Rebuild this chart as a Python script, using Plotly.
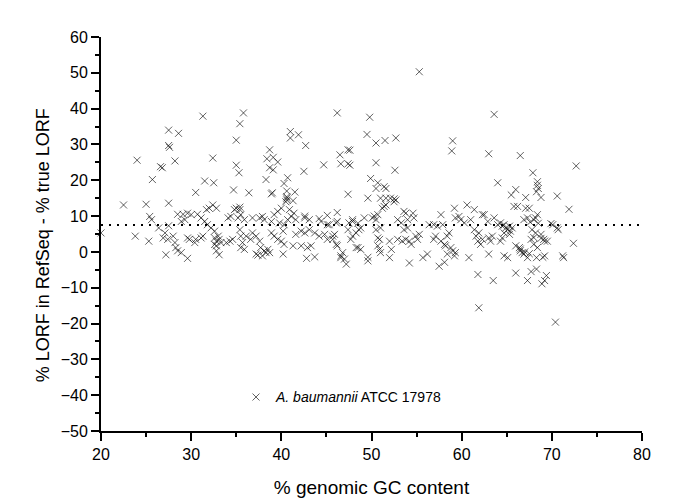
import plotly.graph_objects as go

# % genomic GC content (x) and % LORF in RefSeq - % true LORF (y)
gc_upper = [55.3, 31.3, 35.8, 35.4, 27.5, 28.6, 35.0, 27.5, 27.6, 41.0, 41.0, 41.9, 42.7, 46.2, 49.8, 49.5,
            50.5, 51.5, 52.7, 46.5, 46.6, 47.4, 47.6, 47.4, 47.6, 50.5, 49.9, 50.7, 50.5, 51.6, 52.6, 47.4,
            49.6, 51.0, 51.6, 52.1, 52.5, 52.7, 59.0, 58.9, 63.6, 63.0, 66.5, 72.7, 67.9, 64.0, 68.4, 68.4,
            68.5, 68.3, 68.8, 65.5, 66.0, 67.1, 70.6, 24.0, 26.8, 26.6, 28.2, 32.4, 25.7, 31.5, 32.5, 30.5,
            35.0, 35.3, 34.7, 36.4, 38.3, 38.4, 38.7, 39.1, 38.7, 39.1, 39.6, 40.7, 40.3, 40.6, 40.6, 40.5,
            41.5, 41.3, 42.5, 44.7, 22.5, 25.0, 27.5, 39.0, 38.9, 51.4, 52.5, 51.4, 60.6, 61.4, 59.2, 57.7,
            62.5, 63.6, 65.8, 66.2, 67.1, 67.5, 71.9, 35.4, 35.5, 51.2, 51.6]
lorf_upper = [50.3, 37.9, 38.8, 35.8, 34.0, 33.1, 31.2, 29.7, 29.2, 33.6, 31.8, 32.7, 29.7, 38.8, 37.6, 32.8,
              30.4, 31.1, 31.8, 27.1, 24.6, 28.5, 28.4, 24.6, 24.2, 24.9, 20.5, 19.3, 17.7, 17.7, 22.8, 16.1,
              15.0, 15.0, 15.0, 15.0, 14.8, 14.5, 31.0, 28.2, 38.4, 27.4, 26.9, 24.0, 22.1, 19.3, 19.6, 18.6,
              17.7, 16.8, 15.2, 15.9, 17.4, 15.2, 15.6, 25.6, 23.5, 23.8, 25.4, 26.2, 20.2, 19.8, 19.3, 16.6,
              24.2, 22.1, 17.3, 16.5, 20.2, 26.0, 28.5, 26.4, 23.5, 22.9, 25.1, 20.7, 19.1, 17.0, 15.0, 14.0,
              16.7, 14.3, 22.5, 24.3, 13.1, 13.3, 13.6, 16.5, 16.2, 18.2, 14.0, 12.7, 13.1, 11.8, 12.2, 10.4,
              10.4, 9.5, 12.7, 12.7, 12.2, 12.2, 11.9, 12.5, 10.4, 12.2, 13.1]

gc_band = [20.0, 23.8, 25.4, 25.6, 25.3, 26.4, 27.1, 27.5, 26.9, 27.4, 28.0, 28.2, 28.3, 28.5, 28.9, 29.6,
           27.2, 28.5, 29.1, 29.6, 30.0, 30.7, 28.9, 29.3, 29.6, 29.8, 30.4, 30.5, 31.1, 31.3, 31.1, 31.5,
           31.8, 32.2, 32.6, 31.7, 32.0, 32.4, 32.8, 32.6, 32.8, 33.0, 33.1, 33.3, 32.8, 32.6, 32.8, 33.1,
           34.1, 34.4, 34.8, 35.0, 35.4, 35.2, 33.9, 34.3, 34.6, 35.4, 35.5, 35.7, 35.5, 35.9, 36.1, 36.6,
           36.8, 37.2, 37.6, 37.7, 38.1, 38.3, 38.5, 38.7, 37.2, 37.4, 37.9, 37.6, 37.9, 38.1, 39.2, 39.6,
           40.0, 39.8, 40.3, 40.2, 40.7, 41.1, 40.9, 41.4, 41.6, 40.6, 40.6, 38.9, 39.2, 39.6, 40.0, 40.3,
           40.2, 41.3, 42.2, 42.9, 43.3, 41.6, 42.2, 42.6, 43.1, 43.7, 44.2, 44.8, 45.1, 45.7, 42.8, 43.7,
           42.6, 43.1, 44.4, 45.3, 46.1, 35.9, 36.8, 38.9, 42.6, 44.2, 45.1, 47.9, 48.5, 49.2, 50.3, 46.6,
           47.0, 47.2, 49.6, 48.5, 48.8, 46.2, 46.2, 45.1, 45.9, 46.1, 46.2, 45.7, 46.8, 46.6, 47.5, 47.9,
           47.4, 48.3, 48.6, 48.8, 47.7, 47.9, 48.3, 49.6, 50.1, 50.5, 50.7, 50.5, 50.7, 50.9, 50.7, 50.9,
           51.0, 51.0, 52.0, 52.2, 52.0, 52.9, 53.3, 53.6, 53.8, 54.0, 54.6, 54.7, 52.9, 53.4, 53.8, 54.2,
           54.4, 53.6, 54.0, 54.9, 55.3, 55.1, 54.2, 55.7, 56.2, 56.4, 56.9, 57.3, 57.9, 56.9, 57.1, 57.7,
           58.1, 58.2, 58.4, 58.6, 58.8, 59.0, 59.2, 59.3, 57.5, 59.7, 59.9, 60.3, 59.3, 61.0, 61.4, 61.6,
           61.8, 62.1, 62.3, 61.9, 60.8, 62.3, 62.9, 63.0, 63.2, 63.4, 63.0, 64.0, 64.3, 64.5, 64.7, 64.9,
           65.1, 65.3, 65.4, 65.6, 64.7, 65.3, 64.5, 64.3, 64.7, 65.1, 66.0, 66.0, 66.4, 66.5, 66.7, 66.9,
           67.3, 66.9, 67.3, 68.0, 68.2, 68.4, 67.8, 68.2, 68.8, 69.1, 69.5, 67.7, 68.0, 68.4, 68.3, 69.2,
           67.7, 68.3, 68.9, 69.2, 69.4, 67.3, 61.8, 63.5, 61.9, 70.4, 70.1, 70.6, 71.2, 71.3, 72.4, 70.7,
           69.9, 67.6, 68.5, 68.0, 68.8, 69.2, 66.5, 67.0, 67.5, 69.0, 58.1, 58.4]
lorf_band = [5.3, 4.4, 9.9, 9.0, 3.0, 6.7, 5.3, 7.3, 3.9, 3.5, 4.4, 2.6, 1.2, 0.3, -0.2, -1.8,
             -0.8, 10.5, 10.5, 10.8, 10.4, 10.5, 8.5, 9.0, 3.9, 3.5, 2.6, 3.5, 3.9, 4.4, 9.5, 8.5,
             7.6, 6.7, 5.8, 11.8, 12.2, 13.1, 12.2, 3.9, 3.0, 4.4, 3.5, 2.6, 1.7, 2.1, 0.3, -0.8,
             9.5, 9.9, 11.8, 12.2, 11.8, 9.5, 2.6, 3.0, 3.5, 6.2, 4.4, 2.6, 1.2, 0.7, 4.4, 3.5,
             5.3, 4.4, 3.0, 1.2, 0.3, -0.2, 0.7, -0.2, -0.6, -0.9, -1.1, 9.5, 9.9, 9.0, 10.4, 11.3,
             12.2, 8.1, 7.6, 5.8, 9.0, 9.9, 11.8, 10.8, 9.0, 14.5, 15.4, 5.3, 4.4, 3.5, 3.0, 2.1,
             -0.6, 1.7, 1.7, 1.2, 1.7, 4.9, 5.8, 5.3, 6.2, 5.3, 4.4, 4.9, 3.5, 4.4, -1.8, -1.4,
             9.5, 9.0, 8.5, 7.6, 8.1, 9.0, 9.5, 8.5, 10.0, 9.3, 10.2, 9.0, 8.0, 9.5, 10.0, -1.1,
             -2.0, -3.4, -2.5, 1.2, 0.7, 11.0, 8.5, 7.6, 4.9, 2.1, 1.7, 3.5, -0.2, -1.6, 8.1, 8.5,
             6.2, 5.3, 6.2, 6.7, 3.5, 4.4, 1.2, -1.5, 9.5, 9.0, 10.4, 6.2, 3.9, 3.5, 1.7, 0.7,
             -0.2, 6.7, 3.0, 0.7, -1.6, 9.0, 8.1, 11.3, 10.8, 9.0, 10.8, 9.5, 3.5, 3.0, 3.5, 3.0,
             2.1, 6.2, 6.7, 4.4, 4.9, 3.5, -3.1, -1.6, -0.6, 7.6, 7.6, 7.2, 7.6, 3.5, 4.4, 3.0,
             2.1, 1.7, 4.4, 5.3, 1.2, 0.3, -1.1, -0.2, -4.0, 9.9, 9.0, 8.1, 9.5, 9.0, 6.2, 4.4,
             3.0, 2.1, 3.5, 5.3, -1.6, 10.4, 8.5, 3.9, 3.0, 4.4, -0.6, 7.6, 8.1, 7.2, 7.6, 6.7,
             6.2, 7.2, 5.8, 6.7, 5.3, 4.9, 3.9, 3.0, -1.1, -1.6, -5.9, 1.7, 1.2, 0.3, -0.2, -0.6,
             -1.6, 9.0, 9.5, 9.0, 9.5, 10.4, 6.2, 5.3, 4.9, 3.5, 3.0, 3.5, 2.1, 1.2, -1.6, -1.1,
             -5.5, -4.8, -8.9, -8.0, -6.6, -8.0, -6.3, -8.0, -15.6, -19.6, 7.6, 6.7, -1.1, -1.6, 2.4, 6.2,
             7.9, 8.3, 8.0, 4.0, 3.8, 3.0, 0.8, 0.0, -0.5, -1.5, -2.9, -0.6]

gc_content = gc_upper + gc_band
lorf_diff = lorf_upper + lorf_band

mean_level = 7.5
x_ticks = [20, 30, 40, 50, 60, 70, 80]
y_ticks = [-50, -40, -30, -20, -10, 0, 10, 20, 30, 40, 50, 60]
series_name = "<i>A. baumannii</i> ATCC 17978"

FONT = "Liberation Sans, Arial, sans-serif"

fig = go.Figure()
fig.add_trace(go.Scatter(
    x=gc_content, y=lorf_diff, mode="markers", name=series_name,
    marker=dict(symbol="x-thin", size=7, color="rgba(0,0,0,0.62)",
                line=dict(width=1, color="rgba(0,0,0,0.62)")),
    cliponaxis=False, showlegend=True,
))

fig.add_shape(type="line", xref="x", yref="y", x0=x_ticks[0], x1=x_ticks[-1],
              y0=mean_level, y1=mean_level,
              line=dict(color="black", width=2, dash="2px,6px"), layer="below")

axis_common = dict(
    showgrid=False, zeroline=False, showline=True, linecolor="black", linewidth=2,
    ticks="outside", ticklen=8, tickwidth=2, tickcolor="black",
    tickfont=dict(family=FONT, size=16, color="black"),
    mirror=False,
)

fig.update_xaxes(range=[20, 80], tickvals=x_ticks,
                 minor=dict(dtick=5, ticklen=4, tickwidth=2, tickcolor="black", ticks="outside"),
                 title=dict(text="% genomic GC content", font=dict(family=FONT, size=19, color="black"),
                            standoff=18),
                 **axis_common)
fig.update_yaxes(range=[-50, 60], tickvals=y_ticks,
                 minor=dict(dtick=5, ticklen=4, tickwidth=2, tickcolor="black", ticks="outside"),
                 **axis_common)

fig.add_annotation(text="% LORF in RefSeq - % true LORF", textangle=-90,
                   xref="paper", yref="paper", x=(35 - 93) / 541, y=(428 - 240) / 399,
                   xanchor="center", yanchor="middle", showarrow=False,
                   font=dict(family=FONT, size=18, color="black"))

fig.update_layout(
    width=685, height=499,
    margin=dict(l=93, r=51, t=29, b=71),
    paper_bgcolor="white", plot_bgcolor="white",
    font=dict(family=FONT, color="black"),
    legend=dict(x=(228 - 93) / 541, y=(428 - 394) / 399, xanchor="left", yanchor="middle",
                bgcolor="rgba(0,0,0,0)", borderwidth=0,
                font=dict(family=FONT, size=14, color="black"), itemwidth=30),
)

fig.write_html("out.html")
